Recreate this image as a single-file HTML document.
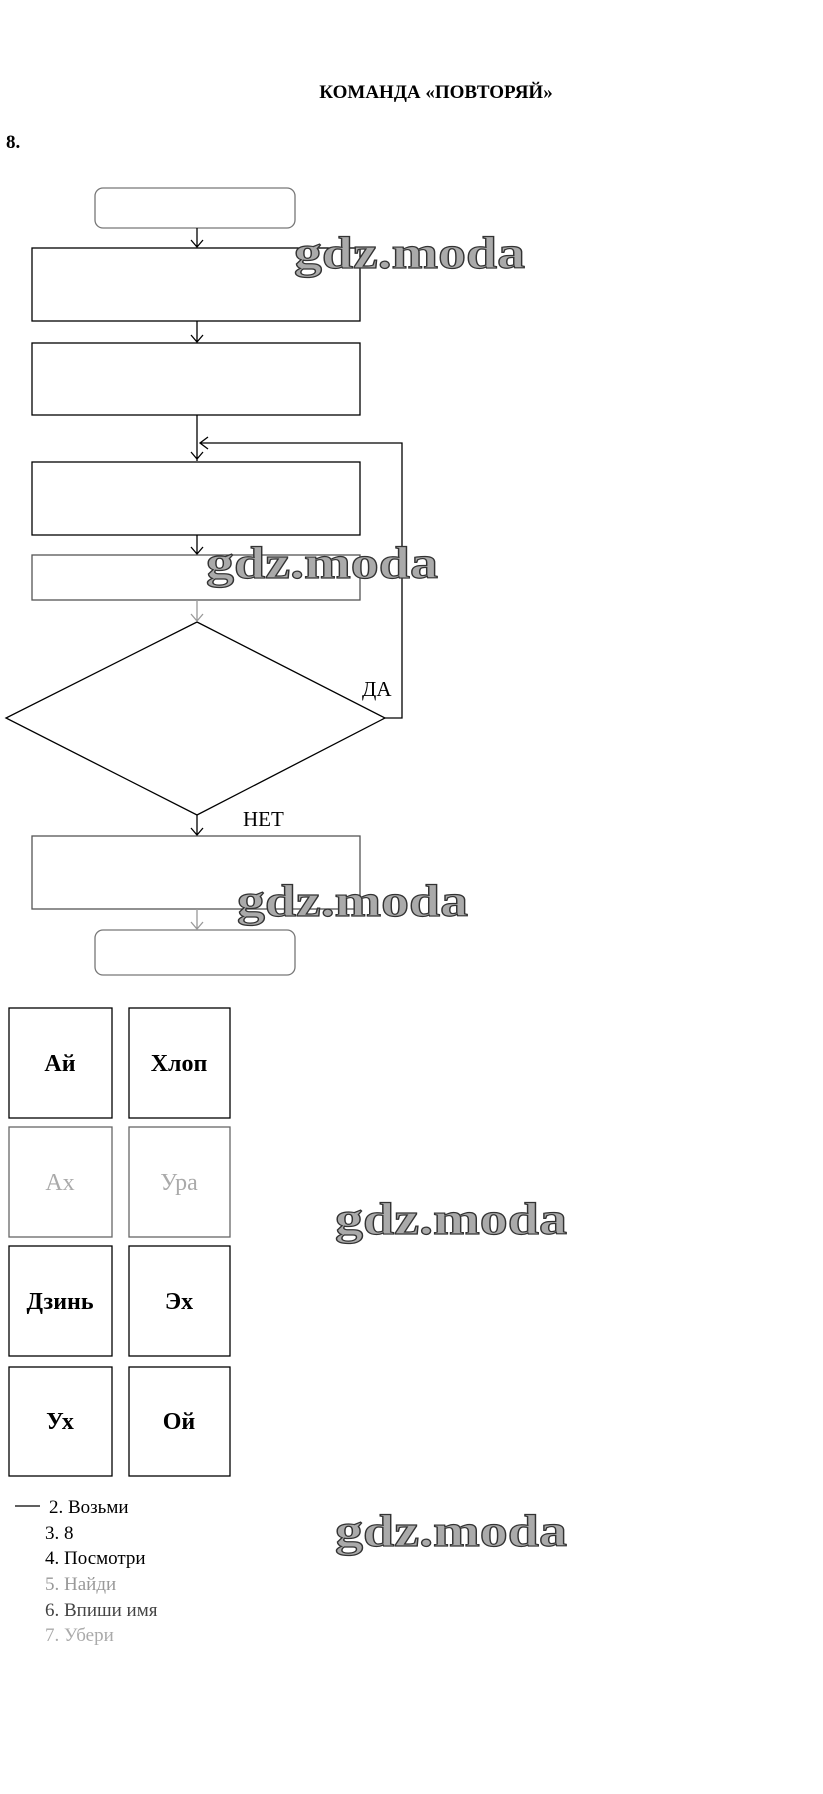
<!DOCTYPE html>
<html><head><meta charset="utf-8"><style>
html,body{margin:0;padding:0;background:#fff}
svg{display:block}
</style></head><body>
<svg width="823" height="1794" viewBox="0 0 823 1794" xmlns="http://www.w3.org/2000/svg" font-family="'Liberation Serif', 'Noto Serif CJK SC', serif">
<g fill="none" stroke="#000" stroke-width="1.3">
<rect x="95" y="188" width="200" height="40" rx="8" stroke="#777"/>
<rect x="32" y="248" width="328" height="73"/>
<rect x="32" y="343" width="328" height="72"/>
<rect x="32" y="462" width="328" height="73"/>
<rect x="32" y="555" width="328" height="45" stroke="#555"/>
<polygon points="197,622 385,718 197,815 6,718"/>
<rect x="32" y="836" width="328" height="73" stroke="#555"/>
<rect x="95" y="930" width="200" height="45" rx="8" stroke="#777"/>
<path d="M197 228V247M191 240L197 247L203 240"/>
<path d="M197 321V342M191 335L197 342L203 335"/>
<path d="M197 415V461M191 452L197 459L203 452"/>
<path d="M385 718H402V443H200M208 437L200 443L208 449"/>
<path d="M197 535V554M191 547L197 554L203 547"/>
<path d="M197 600V621M191 614L197 621L203 614" stroke="#999"/>
<path d="M197 815V835M191 828L197 835L203 828"/>
<path d="M197 909V929M191 922L197 929L203 922" stroke="#999"/>
<rect x="9" y="1008" width="103" height="110"/>
<rect x="129" y="1008" width="101" height="110"/>
<rect x="9" y="1127" width="103" height="110" stroke="#666"/>
<rect x="129" y="1127" width="101" height="110" stroke="#666"/>
<rect x="9" y="1246" width="103" height="110"/>
<rect x="129" y="1246" width="101" height="110"/>
<rect x="9" y="1367" width="103" height="109"/>
<rect x="129" y="1367" width="101" height="109"/>
<path d="M15 1506H40"/>
</g>
<text x="436" y="98" font-size="19" font-weight="bold" text-anchor="middle">КОМАНДА «ПОВТОРЯЙ»</text>
<text x="6" y="148" font-size="19" font-weight="bold">8.</text>
<text x="362" y="696" font-size="21">ДА</text>
<text x="243" y="826" font-size="21">НЕТ</text>
<g font-size="24" font-weight="bold" text-anchor="middle">
<text x="60" y="1071">Ай</text>
<text x="179" y="1071">Хлоп</text>
<text x="60" y="1190" fill="#aaa" font-weight="normal">Ах</text>
<text x="179" y="1190" fill="#aaa" font-weight="normal">Ура</text>
<text x="60" y="1309">Дзинь</text>
<text x="179" y="1309">Эх</text>
<text x="60" y="1429">Ух</text>
<text x="179" y="1429">Ой</text>
</g>
<g font-size="19">
<text x="49" y="1513">2. Возьми</text>
<text x="45" y="1539">3. 8</text>
<text x="45" y="1564">4. Посмотри</text>
<text x="45" y="1590" fill="#999">5. Найди</text>
<text x="45" y="1616" fill="#444">6. Впиши имя</text>
<text x="45" y="1641" fill="#aaa">7. Убери</text>
</g>
<g font-size="46" font-weight="bold" fill="#aaa" stroke="#333" stroke-width="1.2">
<text x="294" y="268" textLength="231" lengthAdjust="spacingAndGlyphs">gdz.moda</text>
<text x="206" y="578" textLength="232" lengthAdjust="spacingAndGlyphs">gdz.moda</text>
<text x="237" y="916" textLength="231" lengthAdjust="spacingAndGlyphs">gdz.moda</text>
<text x="335" y="1234" textLength="232" lengthAdjust="spacingAndGlyphs">gdz.moda</text>
<text x="335" y="1546" textLength="232" lengthAdjust="spacingAndGlyphs">gdz.moda</text>
</g>
</svg>
</body></html>
